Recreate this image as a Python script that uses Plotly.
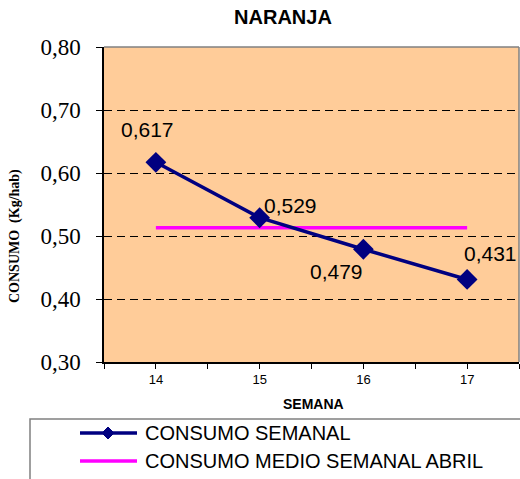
import plotly.graph_objects as go

# ---- data ----
semanas = [14, 15, 16, 17]
consumo_semanal = [0.617, 0.529, 0.479, 0.431]
consumo_medio_abril = [0.513, 0.513, 0.513, 0.513]
etiquetas = ["0,617", "0,529", "0,479", "0,431"]
titulo = "NARANJA"
serie_nombres = ["CONSUMO SEMANAL", "CONSUMO MEDIO SEMANAL ABRIL"]

# ---- layout geometry (pixels) ----
W, H = 520, 479
L, R, T, B = 104, 1, 47, 117
PW, PH = W - L - R, H - T - B


def px(x):
    return (x - L) / PW


def py(y):
    return (H - B - y) / PH


NAVY = "#000080"
MAGENTA = "#FF00FF"
BG = "#FFCC99"
SANS = "Liberation Sans"
SERIF = "'Liberation Serif', Tinos, 'Times New Roman', 'DejaVu Serif', serif"

fig = go.Figure()
fig.add_trace(go.Scatter(
    x=semanas, y=consumo_medio_abril, mode="lines",
    line=dict(color=MAGENTA, width=3.5), name=serie_nombres[1],
    showlegend=False, hoverinfo="skip"))
fig.add_trace(go.Scatter(
    x=semanas, y=consumo_semanal, mode="lines+markers",
    line=dict(color=NAVY, width=3.5),
    marker=dict(symbol="diamond", size=16, color=NAVY),
    name=serie_nombres[0], showlegend=False, hoverinfo="skip"))

# data labels
offsets = [(-8, 33), (31, 12), (-27, -22), (23, 26)]
annotations = []
for xv, yv, t, (dx, dy) in zip(semanas, consumo_semanal, etiquetas, offsets):
    annotations.append(dict(x=xv, y=yv, xref="x", yref="y", text=t,
                            showarrow=False, xshift=dx, yshift=dy,
                            xanchor="center", yanchor="middle",
                            font=dict(family=SANS, size=21, color="black")))

# axis titles
annotations.append(dict(x=px(313), y=py(404), xref="paper", yref="paper",
                        text="<b>SEMANA</b>", showarrow=False,
                        xanchor="center", yanchor="middle",
                        font=dict(family=SANS, size=14, color="black")))
annotations.append(dict(x=px(15), y=py(236), xref="paper", yref="paper",
                        text="<b>CONSUMO  (Kg/hab)</b>", showarrow=False,
                        textangle=-90, xanchor="center", yanchor="middle",
                        font=dict(family=SERIF, size=14, color="black")))

# legend text
for name, yy in zip(serie_nombres, [433, 461]):
    annotations.append(dict(x=px(143), y=py(yy), xref="paper", yref="paper",
                            text=name, showarrow=False, xanchor="left",
                            yanchor="middle",
                            font=dict(family=SANS, size=20, color="black")))

shapes = [
    # top and right plot border (gray)
    dict(type="line", xref="paper", yref="paper", x0=0, x1=1, y0=1, y1=1,
         line=dict(color="#808080", width=1.5), layer="above"),
    dict(type="line", xref="paper", yref="paper", x0=1, x1=1, y0=0, y1=1,
         line=dict(color="#808080", width=1.5), layer="above"),
    # legend box
    dict(type="rect", xref="paper", yref="paper", x0=px(30), x1=px(540),
         y0=py(500), y1=py(419), line=dict(color="#808080", width=1.5),
         fillcolor="white", layer="below"),
    # legend sample lines
    dict(type="line", xref="paper", yref="paper", x0=px(80), x1=px(137),
         y0=py(433), y1=py(433), line=dict(color=NAVY, width=3.5), layer="above"),
    dict(type="line", xref="paper", yref="paper", x0=px(80), x1=px(137),
         y0=py(461), y1=py(461), line=dict(color=MAGENTA, width=3.5), layer="above"),
    # legend diamond
    dict(type="path", xref="paper", yref="paper", xsizemode="pixel",
         ysizemode="pixel", xanchor=px(108), yanchor=py(433),
         path="M -6 0 L 0 6 L 6 0 L 0 -6 Z", fillcolor=NAVY,
         line=dict(color=NAVY, width=1), layer="above"),
]

fig.update_layout(
    width=W, height=H,
    margin=dict(l=L, r=R, t=T, b=B),
    paper_bgcolor="white", plot_bgcolor=BG,
    separators=",.",
    title=dict(text="<b>" + titulo + "</b>", x=283 / W, xref="container",
               xanchor="center", y=1 - 17 / H, yref="container",
               yanchor="middle",
               font=dict(family=SANS, size=20, color="black")),
    xaxis=dict(range=[13.5, 17.5], tickvals=semanas, ticks="outside",
               ticklen=5, tickcolor="black", showgrid=False, zeroline=False,
               showline=True, linecolor="black", linewidth=1.5,
               tickfont=dict(family=SANS, size=13, color="black"),
               minor=dict(ticks="outside", tick0=13.5, dtick=0.5, ticklen=5,
                          tickcolor="black", showgrid=False)),
    yaxis=dict(range=[0.30, 0.80], dtick=0.1, tick0=0.3, tickformat=".2f",
               ticks="outside", ticklen=6, tickcolor="black",
               showgrid=True, gridcolor="black", griddash="8px,5px",
               gridwidth=1, zeroline=False, showline=True,
               linecolor="black", linewidth=1.5, ticklabelstandoff=11,
               tickfont=dict(family=SERIF, size=23, color="black")),
    annotations=annotations, shapes=shapes,
    showlegend=False,
)

fig.write_html("out.html", config={"displayModeBar": False},
               post_script="document.body.style.margin='0';")
